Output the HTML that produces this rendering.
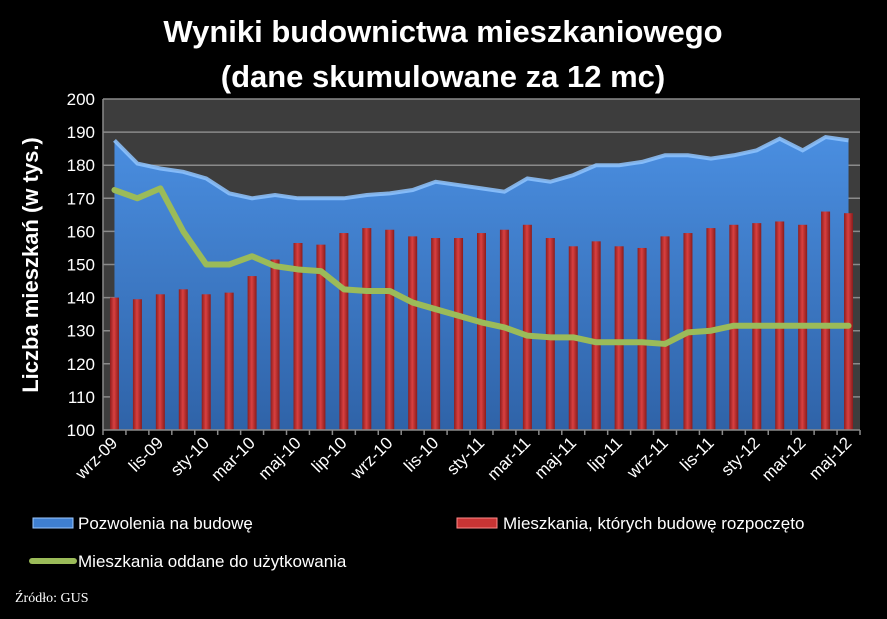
<!DOCTYPE html>
<html><head><meta charset="utf-8"><style>
body{margin:0;background:#000;width:887px;height:614px;overflow:hidden;font-family:"Liberation Sans",sans-serif}
</style></head><body>
<svg width="887" height="614" xmlns="http://www.w3.org/2000/svg">
<defs>
<linearGradient id="areaG" x1="0" y1="0" x2="0" y2="1"><stop offset="0" stop-color="#4a8ee0"/><stop offset="1" stop-color="#2f63a8"/></linearGradient>
<linearGradient id="barG" x1="0" y1="0" x2="1" y2="0"><stop offset="0" stop-color="#8e1e1e"/><stop offset="0.45" stop-color="#d94040"/><stop offset="1" stop-color="#8a1c1c"/></linearGradient>
</defs>
<text x="443" y="42" text-anchor="middle" fill="#fff" font-size="31" font-weight="bold">Wyniki budownictwa mieszkaniowego</text>
<text x="443" y="87" text-anchor="middle" fill="#fff" font-size="31" font-weight="bold">(dane skumulowane za 12 mc)</text>
<rect x="103" y="99" width="757" height="331" fill="#3d3d3d"/>
<g id="grid"></g><g id="area"></g><g id="bars"></g><g id="line"></g><g id="axes"></g>
<text transform="translate(38,265) rotate(-90)" text-anchor="middle" fill="#fff" font-size="22" font-weight="bold">Liczba mieszkań (w tys.)</text>
<g>
<rect x="33" y="518" width="40" height="10" fill="#3f7fd0" stroke="#9cc8ff" stroke-width="1"/>
<text x="78" y="529" fill="#fff" font-size="17">Pozwolenia na budowę</text>
<rect x="457" y="518" width="40" height="10" fill="#c83434" stroke="#ff8a8a" stroke-width="1"/>
<text x="503" y="529" fill="#fff" font-size="17">Mieszkania, których budowę rozpoczęto</text>
<line x1="32" y1="561" x2="74" y2="561" stroke="#9bbb59" stroke-width="6" stroke-linecap="round"/>
<text x="78" y="567" fill="#fff" font-size="17">Mieszkania oddane do użytkowania</text>
</g>
<text x="15" y="602" fill="#fff" font-size="14" font-family="Liberation Serif,serif">Źródło: GUS</text>
</svg>
<script>
const categories=["wrz-09","paź-09","lis-09","gru-09","sty-10","lut-10","mar-10","kwi-10","maj-10","cze-10","lip-10","sie-10","wrz-10","paź-10","lis-10","gru-10","sty-11","lut-11","mar-11","kwi-11","maj-11","cze-11","lip-11","sie-11","wrz-11","paź-11","lis-11","gru-11","sty-12","lut-12","mar-12","kwi-12","maj-12"];
const permits=[187.5,180.5,179,178,176,171.5,170,171,170,170,170,171,171.5,172.5,175,174,173,172,176,175,177,180,180,181,183,183,182,183,184.5,188,184.5,188.5,187.5];
const started=[140,139.5,141,142.5,141,141.5,146.5,151.5,156.5,156,159.5,161,160.5,158.5,158,158,159.5,160.5,162,158,155.5,157,155.5,155,158.5,159.5,161,162,162.5,163,162,166,165.5];
const completed=[172.5,170,173,160,150,150,152.5,149.5,148.5,148,142.5,142,142,138.5,136.5,134.5,132.5,131,128.5,128,128,126.5,126.5,126.5,126,129.5,130,131.5,131.5,131.5,131.5,131.5,131.5];
const yTicks=[100,110,120,130,140,150,160,170,180,190,200];
const NS="http://www.w3.org/2000/svg";
const L=103,R=860,T=99,B=430,ymin=100,ymax=200;
const bw=(R-L)/categories.length;
const x=i=>L+bw*(i+0.5);
const y=v=>B-(v-ymin)/(ymax-ymin)*(B-T);
function mk(tag,attrs,parent){const e=document.createElementNS(NS,tag);for(const k in attrs)e.setAttribute(k,attrs[k]);document.getElementById(parent).appendChild(e);return e;}
yTicks.forEach(t=>{
 if(t>ymin){const g=mk('line',{x1:L,x2:R,y1:y(t),y2:y(t),stroke:'#8a8a8a','stroke-width':1.5},'grid');
 
 }
 const tx=mk('text',{x:L-8,y:y(t)+6,'text-anchor':'end',fill:'#fff','font-size':17},'axes');
 tx.textContent=t;
 
 
});
let d='M'+x(0)+','+B;
permits.forEach((v,i)=>d+=' L'+x(i)+','+y(v));
d+=' L'+x(permits.length-1)+','+B+' Z';
const a=mk('path',{d:d,fill:'url(#areaG)'},'area');


let d2='';permits.forEach((v,i)=>d2+=(i?' L':'M')+x(i)+','+y(v));
const ae=mk('path',{d:d2,fill:'none',stroke:'#8fc4ff','stroke-width':4,opacity:0.85},'area');


started.forEach((v,i)=>{
 const r=mk('rect',{x:x(i)-4.5,y:y(v),width:9,height:B-y(v),fill:'url(#barG)'},'bars');
 
 
});
let d3='';completed.forEach((v,i)=>d3+=(i?' L':'M')+x(i)+','+y(v));
const ln=mk('path',{d:d3,fill:'none',stroke:'#9bbb59','stroke-width':6,'stroke-linejoin':'round','stroke-linecap':'round'},'line');


mk('line',{x1:L,x2:L,y1:T,y2:B,stroke:'#8a8a8a','stroke-width':1.5},'axes');
mk('line',{x1:L,x2:R,y1:B,y2:B,stroke:'#8a8a8a','stroke-width':1.5},'axes');
for(let i=0;i<=categories.length;i++){mk('line',{x1:L+bw*i,x2:L+bw*i,y1:B,y2:B+5,stroke:'#8a8a8a','stroke-width':1.5},'axes');}
categories.forEach((c,i)=>{
 if(i%2)return;
 const t=mk('text',{transform:`translate(${x(i)+4},${B+14}) rotate(-45)`,'text-anchor':'end',fill:'#fff','font-size':17},'axes');
 t.textContent=c;
 
 
});
</script>
</body></html>
